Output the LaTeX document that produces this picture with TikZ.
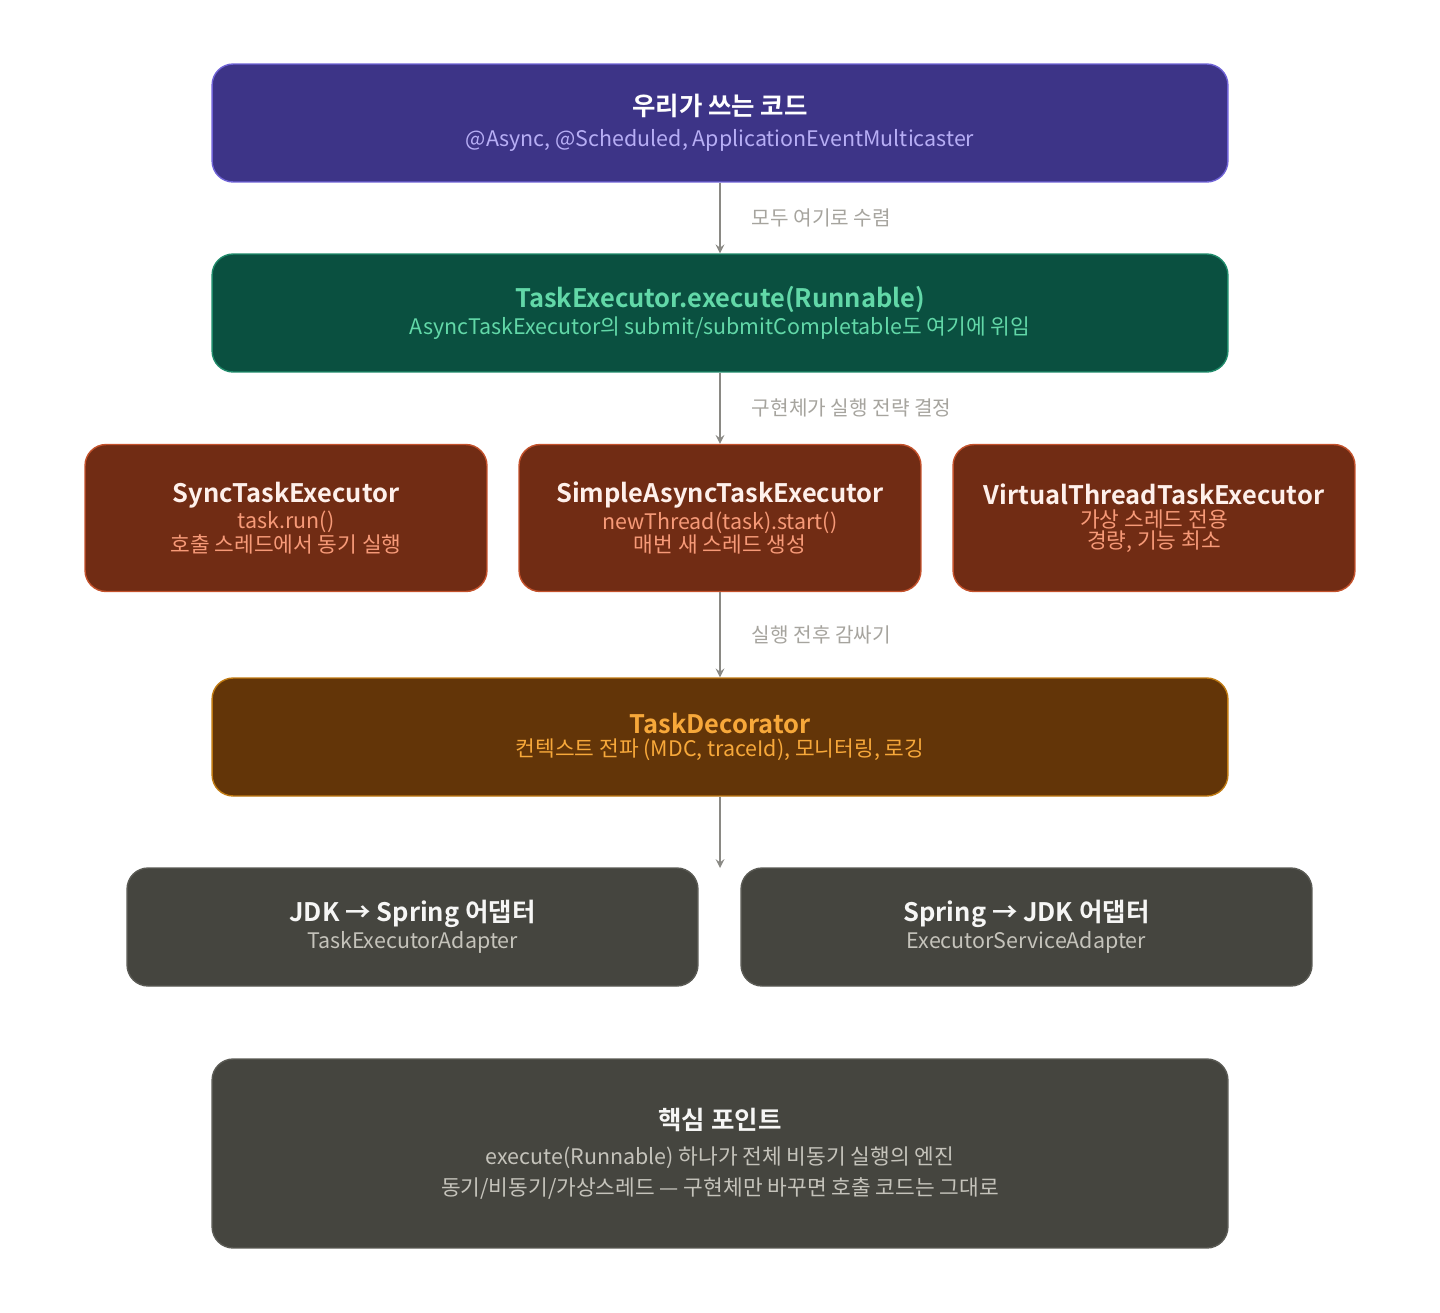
\documentclass[tikz,border=0pt]{standalone}
\usepackage{fontspec}
\setmainfont{Noto Sans CJK KR}[BoldFont={Noto Sans CJK KR Bold}]
\usetikzlibrary{positioning}
\definecolor{purpfill}{HTML}{3D3487}
\definecolor{purpline}{HTML}{6F63D6}
\definecolor{purptext}{HTML}{B7AEF5}
\definecolor{grnfill}{HTML}{0A5040}
\definecolor{grnline}{HTML}{1F8A6A}
\definecolor{grntext}{HTML}{62D8A8}
\definecolor{redfill}{HTML}{712C14}
\definecolor{redline}{HTML}{C4522C}
\definecolor{redtext}{HTML}{F79A78}
\definecolor{brnfill}{HTML}{633508}
\definecolor{brnline}{HTML}{C07A12}
\definecolor{brntext}{HTML}{F7A83A}
\definecolor{gryfill}{HTML}{45453F}
\definecolor{gryline}{HTML}{5A5A54}
\definecolor{grytext}{HTML}{C5C3BB}
\definecolor{arrowgray}{HTML}{8A8984}
\definecolor{lbl}{HTML}{A6A49E}
\newcommand{\ttl}[1]{{\fontsize{14.5}{19}\selectfont\bfseries #1}}
\newcommand{\sbt}[1]{{\fontsize{12.2}{19}\selectfont #1}}
\tikzset{
  box/.style={draw, rounded corners=12pt, line width=0.8pt, align=center, inner sep=0pt},
  wide/.style={box, minimum width=20.32cm, minimum height=2.36cm},
  third/.style={box, minimum width=8.04cm, minimum height=2.94cm},
  half/.style={box, minimum width=11.42cm, minimum height=2.36cm},
  flow/.style={draw=arrowgray, line width=1.2pt, ->, >=stealth},
  note/.style={text=lbl, anchor=west, font=\fontsize{11.5}{14}\selectfont}
}
\begin{document}
\begin{tikzpicture}[x=0.02cm,y=-0.02cm]
\useasboundingbox (0,0) rectangle (1440,1312);
% layers
\node[wide, fill=purpfill, draw=purpline, text=white] (code) at (720,123)
  {\ttl{우리가 쓰는 코드}\\[6pt]\sbt{\color{purptext}@Async, @Scheduled, ApplicationEventMulticaster}};
\node[wide, fill=grnfill, draw=grnline, text=grntext] (exec) at (720,313)
  {\ttl{TaskExecutor.execute(Runnable)}\\[1pt]\sbt{AsyncTaskExecutor의 submit/submitCompletable도 여기에 위임}};
\node[third, fill=redfill, draw=redline, text=redtext] (sync) at (286,518)
  {\ttl{\color{white!85!redtext}SyncTaskExecutor}\\[1pt]\sbt{task.run()}\\\sbt{호출 스레드에서 동기 실행}};
\node[third, fill=redfill, draw=redline, text=redtext] (simple) at (720,518)
  {\ttl{\color{white!85!redtext}SimpleAsyncTaskExecutor}\\[1pt]\sbt{newThread(task).start()}\\\sbt{매번 새 스레드 생성}};
\node[third, fill=redfill, draw=redline, text=redtext] (virtual) at (1154,518)
  {\ttl{\color{white!85!redtext}VirtualThreadTaskExecutor}\\[1pt]\sbt{가상 스레드 전용}\\\sbt{경량, 기능 최소}};
\node[wide, fill=brnfill, draw=brnline, text=brntext] (deco) at (720,737)
  {\ttl{TaskDecorator}\\[1pt]\sbt{컨텍스트 전파 (MDC, traceId), 모니터링, 로깅}};
\node[half, fill=gryfill, draw=gryline, text=grytext] (jdk2spring) at (412.5,927)
  {\ttl{\color{white!85!grytext}JDK → Spring 어댑터}\\[1pt]\sbt{TaskExecutorAdapter}};
\node[half, fill=gryfill, draw=gryline, text=grytext] (spring2jdk) at (1026.5,927)
  {\ttl{\color{white!85!grytext}Spring → JDK 어댑터}\\[1pt]\sbt{ExecutorServiceAdapter}};
\node[box, fill=gryfill, draw=gryline, text=grytext, minimum width=20.32cm, minimum height=3.78cm] (point) at (720,1153.5)
  {\ttl{\color{white!85!grytext}핵심 포인트}\\[8pt]\sbt{execute(Runnable) 하나가 전체 비동기 실행의 엔진}\\[4pt]\sbt{동기/비동기/가상스레드 — 구현체만 바꾸면 호출 코드는 그대로}};
% connectors
\coordinate (adapters) at (720,868);
\draw[flow] (code) -- (exec) node[midway, note, xshift=0.5cm] {모두 여기로 수렴};
\draw[flow] (exec) -- (simple) node[midway, note, xshift=0.5cm] {구현체가 실행 전략 결정};
\draw[flow] (simple) -- (deco) node[midway, note, xshift=0.5cm] {실행 전후 감싸기};
\draw[flow] (deco) -- (adapters);
\end{tikzpicture}
\end{document}
